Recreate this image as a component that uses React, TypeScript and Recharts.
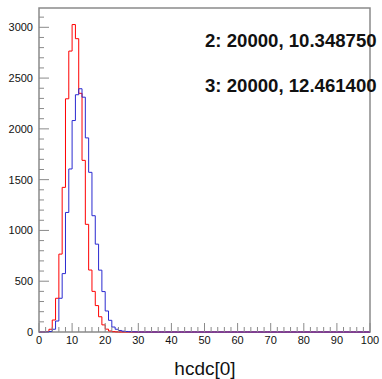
import React from "react";
import { ComposedChart, Line, XAxis, YAxis, ReferenceArea } from "recharts";

// bin contents, index = lower edge of a unit-width bin
const redCounts = [0, 0, 5, 27, 118, 332, 767, 1424, 2296, 2766, 3027, 2888, 2350, 1690, 1060, 610, 400, 260, 150, 70, 28, 10, 3, 1];
const blueCounts = [0, 0, 0, 5, 27, 108, 332, 575, 1177, 1605, 2082, 2336, 2395, 2312, 1911, 1572, 1145, 865, 609, 398, 207, 115, 49, 27, 15, 8, 5, 3, 2, 1];

const yMajorTicks = [0, 500, 1000, 1500, 2000, 2500, 3000];
const xMajorTicks = [0, 10, 20, 30, 40, 50, 60, 70, 80, 90, 100];
const statLines = ["2: 20000, 10.348750", "3: 20000, 12.461400"];
const axisTitle = "hcdc[0]";

const yMinorTicks = Array.from({ length: 32 }, (_, i) => i * 100);
const xMinorTicks = Array.from({ length: 51 }, (_, i) => i * 2);

const data = Array.from({ length: 101 }, (_, i) => ({
  x: i,
  red: redCounts[i] ?? 0,
  blue: blueCounts[i] ?? 0,
}));

const FONT = "'Liberation Sans', Arial, Helvetica, sans-serif";
const FRAME = "#8a8a8a";

function YTick(props: any) {
  const { x, y, payload } = props;
  const major = yMajorTicks.includes(payload.value);
  return (
    <g>
      <line x1={x} x2={x + (major ? 10 : 5)} y1={y} y2={y} stroke={FRAME} strokeWidth={1} />
      {major && (
        <text x={x - 6} y={y + 4} textAnchor="end" fontSize={11} fontFamily={FONT} fill="#111">
          {payload.value}
        </text>
      )}
    </g>
  );
}

function XTick(props: any) {
  const { x, y, payload } = props;
  const major = xMajorTicks.includes(payload.value);
  return (
    <g>
      <line x1={x} x2={x} y1={y} y2={y - (major ? 9 : 5)} stroke={FRAME} strokeWidth={1} />
      {major && (
        <text x={x} y={y + 12} textAnchor="middle" fontSize={11} fontFamily={FONT} fill="#111">
          {payload.value}
        </text>
      )}
    </g>
  );
}

export default function App() {
  return (
    <div style={{ position: "absolute", left: 0, top: 0, width: 382, height: 379, background: "#fff" }}>
      <ComposedChart width={382} height={379} data={data} margin={{ top: 8, right: 12, bottom: 46, left: 38 }}>
        <XAxis
          dataKey="x"
          type="number"
          domain={[0, 100]}
          ticks={xMinorTicks}
          interval={0}
          height={1}
          tickSize={0}
          tickMargin={0}
          axisLine={false}
          tick={(p: any) => <XTick {...p} />}
        />
        <YAxis
          type="number"
          domain={[0, 3190]}
          ticks={yMinorTicks}
          interval={0}
          width={1}
          tickSize={0}
          tickMargin={0}
          axisLine={false}
          tick={(p: any) => <YTick {...p} />}
        />
        <ReferenceArea x1={0} x2={100} y1={0} y2={3190} fill="#fff" fillOpacity={0} stroke={FRAME} strokeWidth={1.5} />
        <Line type="stepAfter" dataKey="red" stroke="#ff0000" strokeWidth={1} dot={false} isAnimationActive={false} />
        <Line type="stepAfter" dataKey="blue" stroke="#2a2ad0" strokeWidth={1} dot={false} isAnimationActive={false} />
      </ComposedChart>
      <svg width={382} height={379} style={{ position: "absolute", left: 0, top: 0, pointerEvents: "none" }}>
        {statLines.map((s, i) => (
          <text key={s} x={205} y={47 + i * 45} fontSize={18.6} fontWeight="bold" fontFamily={FONT} fill="#111">
            {s}
          </text>
        ))}
        <text x={205} y={375} textAnchor="middle" fontSize={19} fontFamily={FONT} fill="#111">
          {axisTitle}
        </text>
      </svg>
    </div>
  );
}
